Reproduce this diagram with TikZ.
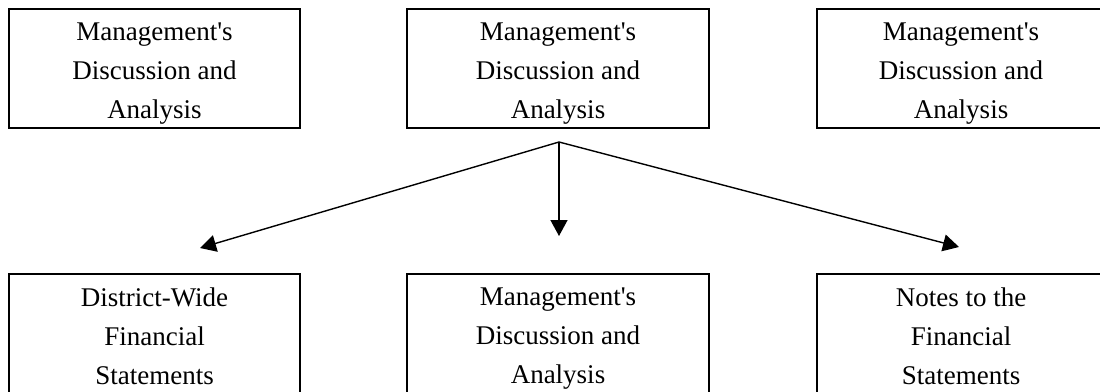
\documentclass[tikz,border=0pt]{standalone}
\usepackage{fontspec}
\setmainfont{Liberation Serif}
\usetikzlibrary{arrows.meta,calc}
\begin{document}
\begin{tikzpicture}[x=1pt,y=-1pt,
  box/.style={draw=black,line width=1.6pt,rectangle,minimum height=119pt,inner sep=0pt},
  txt/.style={align=center,inner sep=0pt,anchor=north,font=\fontsize{27}{39}\selectfont},
  arr/.style={draw=black,line width=1.4pt,-{Triangle[length=16pt,width=17pt]}}]
\useasboundingbox[fill=white] (0,0) rectangle (1100,391);
% top row
\node[box,minimum width=291pt] (tl) at (154.5,68.5) {};
\node[box,minimum width=302pt] (tm) at (558,68.5) {};
\node[box,minimum width=288pt] (tr) at (961,68.5) {};
% bottom row
\node[box,minimum width=291pt] (bl) at (154.5,333.5) {};
\node[box,minimum width=302pt] (bm) at (558,333.5) {};
\node[box,minimum width=288pt] (br) at (961,333.5) {};
% texts
\node[txt] (tlt) at ($(tl.north)+(0,14.7)$) {Management\textquotesingle s\\Discussion and\\Analysis};
\node[txt] (tmt) at ($(tm.north)+(0,14.7)$) {Management\textquotesingle s\\Discussion and\\Analysis};
\node[txt] (trt) at ($(tr.north)+(0,14.7)$) {Management\textquotesingle s\\Discussion and\\Analysis};
\node[txt] (blt) at ($(bl.north)+(0,14.7)$) {District-Wide\\Financial\\Statements};
\node[txt] (bmt) at ($(bm.north)+(0,14.7)$) {Management\textquotesingle s\\Discussion and\\Analysis};
\node[txt] (brt) at ($(br.north)+(0,14.7)$) {Notes to the\\Financial\\Statements};
% arrows
\coordinate (src) at (559,142);
\coordinate (tipL) at (200,248);
\coordinate (tipM) at (559,236);
\coordinate (tipR) at (959,247);
\draw[arr] (src) -- (tipL);
\draw[arr] (src) -- (tipM);
\draw[arr] (src) -- (tipR);
\end{tikzpicture}
\end{document}
